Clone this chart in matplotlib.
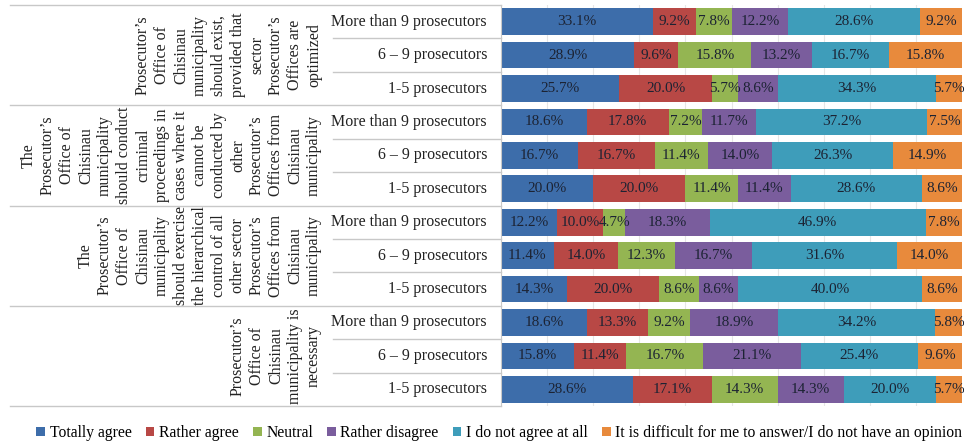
import matplotlib
matplotlib.use("Agg")
import matplotlib.pyplot as plt
import matplotlib.transforms as mtransforms
import numpy as np

# Survey answers, in % of respondents, per group and team size
responses = ["Totally agree", "Rather agree", "Neutral", "Rather disagree",
             "I do not agree at all",
             "It is difficult for me to answer/I do not have an opinion"]
colors = ["#3d6daa", "#b84845", "#94b552", "#7a5d9d", "#3e9dba", "#e88a3c"]

row_labels = ["More than 9 prosecutors", "6 \u2013 9 prosecutors", "1-5 prosecutors"] * 4

group_labels = [
    "Prosecutor\u2019s\nOffice of\nChisinau\nmunicipality\nshould exist,\nprovided that\nsector\n"
    "Prosecutor\u2019s\nOffices are\noptimized",
    "The\nProsecutor\u2019s\nOffice of\nChisinau\nmunicipality\nshould conduct\ncriminal\n"
    "proceedings in\ncases where it\ncannot be\nconducted by\nother\nProsecutor\u2019s\n"
    "Offices from\nChisinau\nmunicipality",
    "The\nProsecutor\u2019s\nOffice of\nChisinau\nmunicipality\nshould exercise\nthe hierarchical\n"
    "control of all\nother sector\nProsecutor\u2019s\nOffices from\nChisinau\nmunicipality",
    "Prosecutor\u2019s\nOffice of\nChisinau\nmunicipality is\nnecessary",
]

totally_agree   = [33.1, 28.9, 25.7, 18.6, 16.7, 20.0, 12.2, 11.4, 14.3, 18.6, 15.8, 28.6]
rather_agree    = [9.2, 9.6, 20.0, 17.8, 16.7, 20.0, 10.0, 14.0, 20.0, 13.3, 11.4, 17.1]
neutral         = [7.8, 15.8, 5.7, 7.2, 11.4, 11.4, 4.7, 12.3, 8.6, 9.2, 16.7, 14.3]
rather_disagree = [12.2, 13.2, 8.6, 11.7, 14.0, 11.4, 18.3, 16.7, 8.6, 18.9, 21.1, 14.3]
not_at_all      = [28.6, 16.7, 34.3, 37.2, 26.3, 28.6, 46.9, 31.6, 40.0, 34.2, 25.4, 20.0]
difficult       = [9.2, 15.8, 5.7, 7.5, 14.9, 8.6, 7.8, 14.0, 8.6, 5.8, 9.6, 5.7]

series = [totally_agree, rather_agree, neutral, rather_disagree, not_at_all, difficult]

plt.rcParams["font.family"] = ["Liberation Serif", "DejaVu Serif"]

fig = plt.figure(figsize=(9.64, 4.47), dpi=100)
ax = fig.add_axes([501 / 964, 1 - 406 / 447, 461 / 964, 401 / 447])

vals = np.array(series)
shares = vals / vals.sum(axis=0) * 100  # 100% stacked
y = np.arange(len(row_labels))
left = np.zeros(len(row_labels))
for i, name in enumerate(responses):
    ax.barh(y, shares[i], left=left, height=0.8, color=colors[i], label=name, zorder=2)
    for yi, (l, w, v) in enumerate(zip(left, shares[i], vals[i])):
        ax.text(l + w / 2, yi, f"{v:.1f}%", ha="center", va="center",
                fontsize=11, color="#1c2333", zorder=3)
    left += shares[i]

ax.set_xlim(0, 100)
ax.set_ylim(len(row_labels) - 0.5, -0.5)
ax.set_xticks(np.arange(0, 101, 10))
ax.grid(axis="x", color="#e6e6e6", lw=0.8, zorder=0)
ax.tick_params(left=False, bottom=False, labelleft=False, labelbottom=False)
for s in ["top", "right", "bottom"]:
    ax.spines[s].set_visible(False)
ax.spines["left"].set_color("#c8c8c8")

# category columns on the left
tr = mtransforms.blended_transform_factory(fig.transFigure, ax.transData)
line_kw = dict(color="#c8c8c8", lw=1, transform=tr, clip_on=False)
for k in range(len(row_labels) + 1):
    yy = k - 0.5
    x0 = 10 / 964 if k % 3 == 0 else 333 / 964
    ax.plot([x0, 501 / 964], [yy, yy], **line_kw)
for yi, lab in enumerate(row_labels):
    ax.text(487 / 964, yi, lab, ha="right", va="center", fontsize=11.5,
            color="#222222", transform=tr)
for g, lab in enumerate(group_labels):
    ax.text(322 / 964, g * 3 + 1, lab, rotation=90, ha="right", va="center",
            multialignment="center", fontsize=11.5, linespacing=1.25,
            color="#222222", transform=tr)

handles, labels = ax.get_legend_handles_labels()
fig.legend(handles, labels, loc="center", bbox_to_anchor=(0.518, 1 - 433 / 447),
           ncol=6, frameon=False, fontsize=11.3, handlelength=0.55, handleheight=0.55,
           handletextpad=0.3, columnspacing=0.9)

fig.savefig("out.png", dpi=100)
